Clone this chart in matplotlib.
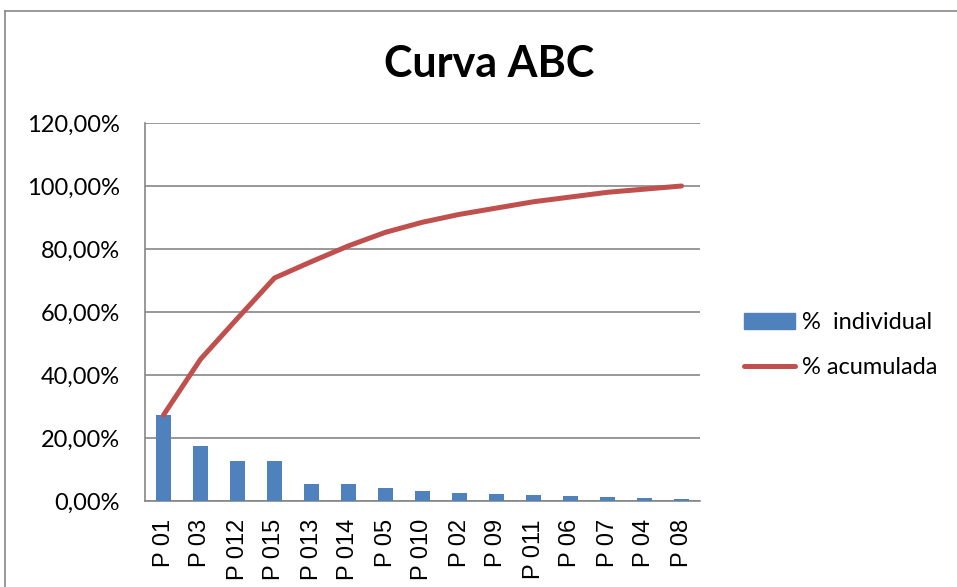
import matplotlib
matplotlib.use("Agg")
import matplotlib.pyplot as plt
from matplotlib.ticker import FuncFormatter
from matplotlib.patches import Rectangle
from matplotlib.lines import Line2D
import numpy as np

categories = ["P 01", "P 03", "P 012", "P 015", "P 013", "P 014", "P 05", "P 010",
              "P 02", "P 09", "P 011", "P 06", "P 07", "P 04", "P 08"]
individual = [27.3, 17.6, 12.7, 12.7, 5.3, 5.3, 4.2, 3.1, 2.6, 2.2, 1.9, 1.6, 1.4, 1.0, 0.7]
acumulada = [27.3, 45.0, 58.0, 70.8, 76.0, 81.0, 85.3, 88.5, 91.0, 93.0, 95.0, 96.5, 98.0, 99.0, 100.0]
y_ticks = [0, 20, 40, 60, 80, 100, 120]

blue = "#4F81BD"
red = "#C0504D"
grid = "#868686"

fig = plt.figure(figsize=(9.57, 5.87), dpi=100)
fig.patch.set_facecolor("white")

# chart-area border (left and top visible)
fig.add_artist(Line2D([5/957, 5/957], [0, 1 - 11/587], transform=fig.transFigure, color=grid, lw=1.2))
fig.add_artist(Line2D([5/957, 1], [1 - 11/587, 1 - 11/587], transform=fig.transFigure, color=grid, lw=1.2))

ax = fig.add_axes([145/957, (587-501)/587, (700-145)/957, (501-123)/587])
x = np.arange(len(categories))
ax.bar(x, individual, width=0.42, color=blue, zorder=3)
ax.plot(x, acumulada, color=red, lw=3.6, zorder=4, solid_capstyle="round")

ax.set_xlim(-0.5, len(categories) - 0.5)
ax.set_ylim(0, 120)
ax.set_yticks(y_ticks)
ax.yaxis.set_major_formatter(FuncFormatter(lambda v, p: f"{v:.2f}%".replace(".", ",")))
ax.grid(axis="y", color=grid, lw=1.2, zorder=0)
ax.set_xticks(x)
ax.set_xticklabels(categories, rotation=90, fontsize=17, family="Liberation Sans")
ax.tick_params(axis="x", length=0, pad=13)
ax.tick_params(axis="y", length=0, labelsize=17, pad=18)
for lab in ax.get_yticklabels():
    lab.set_family("Lato")
for s in ["top", "right"]:
    ax.spines[s].set_visible(False)
for s in ["left", "bottom"]:
    ax.spines[s].set_color(grid)
    ax.spines[s].set_linewidth(1.2)

fig.text(489/957, 1 - 64/587, "Curva ABC", ha="center", va="center",
         fontsize=31, fontweight="bold", family="Lato")

leg = fig.legend(handles=[Rectangle((0, 0), 1, 1, color=blue),
                          Line2D([0], [0], color=red, lw=3.6, solid_capstyle="round")],
                 labels=["%  individual", "% acumulada"],
                 loc="center left", bbox_to_anchor=(723/957, 1 - 345/587),
                 frameon=False, prop={"family": "Lato", "size": 17},
                 handlelength=2.15, handleheight=0.7, handletextpad=0.3, labelspacing=1.0)

fig.savefig("out.png", dpi=100)
